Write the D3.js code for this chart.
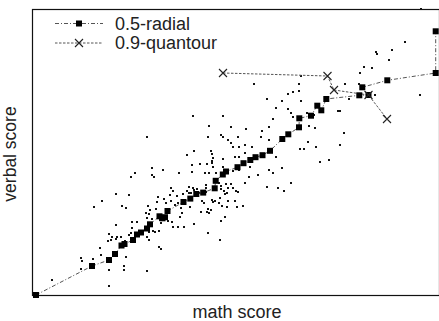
<!DOCTYPE html>
<html>
<head>
<meta charset="utf-8">
<script src="https://cdn.jsdelivr.net/npm/d3@7"></script>
<style>
  body { margin: 0; background: #fff; }
  text { font-family: "Liberation Sans", Arial, sans-serif; fill: #222; }
</style>
</head>
<body>
<script>
// raw sample: [math, verbal]
var scores = [
  [20,15],[49,37],[50,34],[49,26],[61,36],[62,88],[68,47],[69,40],[70,94],[76,54],
  [77,61],[79,55],[80,58],[84,70],[85,58],[84,56],[77,25],[77,9],[84,101],[97,100],
  [90,89],[94,87],[99,118],[103,122],[89,58],[93,54],[92,29],[92,25],[94,38],[97,60],
  [99,62],[100,73],[105,73],[100,67],[115,58],[117,55],[117,63],[121,64],[123,63],[127,64],
  [115,24],[127,48],[129,46],[114,82],[117,81],[115,77],[120,76],[124,86],[128,75],[129,72],
  [136,74],[140,73],[141,68],[146,68],[152,68],[148,78],[150,82],[162,71],[176,62],[188,55],
  [116,89],[118,85],[120,127],[120,120],[122,118],[131,125],[147,122],[160,130],[115,158],[126,98],
  [125,93],[132,96],[134,92],[138,100],[139,94],[145,99],[146,92],[143,90],[151,101],[155,104],
  [157,102],[161,107],[164,103],[167,102],[170,94],[172,92],[176,86],[181,93],[177,82],[187,92],
  [175,131],[180,132],[181,128],[177,122],[139,107],[141,104],[162,144],[155,140],[176,158],[177,169],
  [161,179],[189,160],[191,158],[196,155],[206,158],[199,152],[201,148],[207,148],[213,150],[179,144],
  [180,141],[181,137],[180,134],[203,138],[213,142],[207,138],[168,131],[160,123],[173,122],[184,122],
  [201,124],[207,125],[218,128],[213,112],[174,110],[187,112],[189,109],[195,102],[201,107],[204,104],
  [206,103],[196,94],[203,94],[188,97],[190,89],[211,89],[205,88],[179,85],[175,83],[169,83],
  [193,78],[189,74],[195,88],[157,108],[162,105],[159,102],[165,106],[174,107],[174,103],[189,106],
  [192,104],[196,107],[193,101],[180,95],[183,94],[149,87],[158,88],[191,179],[199,168],[214,166],
  [241,176],[237,168],[230,164],[229,158],[237,155],[222,211],[235,196],[244,187],[220,148],[191,136],
  [191,128],[237,125],[269,219],[267,211],[261,203],[256,201],[267,204],[250,194],[269,194],[256,186],
  [259,182],[275,182],[261,178],[282,180],[283,167],[277,169],[276,153],[268,146],[272,146],[284,148],
  [288,133],[297,135],[389,286],[373,253],[344,243],[345,241],[360,245],[357,235],[332,228],[340,227],
  [328,222],[313,211],[327,211],[343,200],[317,196],[306,184],[308,184],[312,162],[308,150],[388,200],
  [250,127],[241,122],[226,120],[217,118],[235,108],[246,107],[252,104],[259,112],[194,111],[199,111],
  [244,138]
];

// 0.5-radial curve nodes, in order
var radialMath = [4,60,77,83,89.5,92.5,101,105,109,115,118,127.5,130.5,133,135.5,151.5,158.3,164.3,
  171.2,182.7,183.7,190.8,194,205.5,211.5,218.3,223.5,230.5,238,250.3,256.3,267,267.3,279,285.3,
  289.3,294.3,327.3,336.5,330.3,355.3,403.7,403.7];
var radialVerbal = [0,29,35,41,49.5,51,55,60.5,62.5,66.5,70.7,78.7,76.7,77.8,84,93,96.4,101,
  102.4,106.7,114.2,120.5,123.5,127.8,131.8,135,137.8,139.8,144.2,156,160.7,167.7,176.7,179.3,189.3,
  184.7,196,199.7,200,207.7,214.7,222,263.7];

// 0.9-quantour nodes
var quantMath = [191,295.5,302,336.5,355];
var quantVerbal = [222,219,205,200,176];

var legendLabels = ["0.5-radial", "0.9-quantour"];

var width = 439, height = 321;
var frameL = 32.5, frameT = 9.5, frameR = 439.5, frameB = 295.5;

var svg = d3.select("body").append("svg")
    .attr("width", width)
    .attr("height", height);

var x = d3.scaleLinear().domain([0, 406]).range([32, 438]);
var y = d3.scaleLinear().domain([0, 286]).range([295, 9]);

// frame
svg.append("rect")
    .attr("x", frameL).attr("y", frameT)
    .attr("width", frameR - frameL).attr("height", frameB - frameT)
    .attr("fill", "none")
    .attr("stroke", "#111")
    .attr("stroke-width", 1.2);

// scatter dots
svg.append("g").selectAll("rect")
    .data(scores)
    .enter().append("rect")
      .attr("x", function(d) { return x(d[0]) - 1; })
      .attr("y", function(d) { return y(d[1]) - 1; })
      .attr("width", 2)
      .attr("height", 2)
      .attr("fill", "#111");

var radial = radialMath.map(function(m, i) { return [m, radialVerbal[i]]; });
var quant = quantMath.map(function(m, i) { return [m, quantVerbal[i]]; });

var line = d3.line()
    .x(function(d) { return x(d[0]); })
    .y(function(d) { return y(d[1]); });

svg.append("path")
    .attr("d", line(radial))
    .attr("fill", "none")
    .attr("stroke", "#555")
    .attr("stroke-width", 1)
    .attr("stroke-dasharray", "4,2,1,2");

svg.append("path")
    .attr("d", line(quant))
    .attr("fill", "none")
    .attr("stroke", "#555")
    .attr("stroke-width", 1)
    .attr("stroke-dasharray", "2.5,1.5");

function square(g, cx, cy) {
  g.append("rect")
    .attr("x", cx - 3).attr("y", cy - 3)
    .attr("width", 6).attr("height", 6)
    .attr("fill", "#000");
}
function cross(g, cx, cy) {
  g.append("path")
    .attr("d", "M" + (cx - 4) + "," + (cy - 4) + "L" + (cx + 4) + "," + (cy + 4) +
               "M" + (cx - 4) + "," + (cy + 4) + "L" + (cx + 4) + "," + (cy - 4))
    .attr("stroke", "#222")
    .attr("stroke-width", 1.1)
    .attr("fill", "none");
}

var marks = svg.append("g");
radial.forEach(function(d) { square(marks, x(d[0]), y(d[1])); });
quant.forEach(function(d) { cross(marks, x(d[0]), y(d[1])); });

// legend
var leg = svg.append("g");
var legY = [23.5, 43];
leg.append("line")
    .attr("x1", 55).attr("x2", 103).attr("y1", legY[0]).attr("y2", legY[0])
    .attr("stroke", "#555").attr("stroke-dasharray", "4,2,1,2");
square(leg, 79, legY[0]);
leg.append("line")
    .attr("x1", 55).attr("x2", 103).attr("y1", legY[1]).attr("y2", legY[1])
    .attr("stroke", "#555").attr("stroke-dasharray", "2.5,1.5");
cross(leg, 79, legY[1]);

leg.selectAll("text.lab")
    .data(legendLabels)
    .enter().append("text")
      .attr("class", "lab")
      .attr("x", 115)
      .attr("y", function(d, i) { return legY[i] + 6; })
      .style("font-size", "18px")
      .text(function(d) { return d; });

// axis titles
svg.append("text")
    .attr("x", 237)
    .attr("y", 318)
    .attr("text-anchor", "middle")
    .style("font-size", "18px")
    .text("math score");

svg.append("text")
    .attr("transform", "translate(15.5,154) rotate(-90)")
    .attr("text-anchor", "middle")
    .style("font-size", "17.5px")
    .text("verbal score");
</script>
</body>
</html>
